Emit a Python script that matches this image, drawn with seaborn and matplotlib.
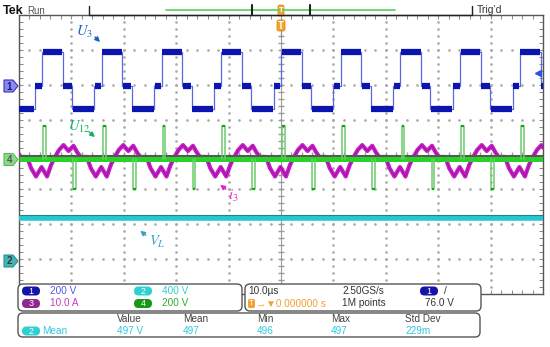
import numpy as np
import matplotlib
matplotlib.use("Agg")
import matplotlib.pyplot as plt
from matplotlib.patches import FancyBboxPatch, Polygon
import seaborn as sns

# ── scope settings (read from the readout) ───────────────────────────────────
CH1_V_DIV = 200.0
CH2_V_DIV = 400.0
CH3_A_DIV = 10.0
CH4_V_DIV = 200.0

# ground markers, divisions from screen centre
CH1_GND = 1.96
CH2_GND = -3.05
CH3_GND = -0.07
CH4_GND = -0.14

# ── U3 (ch1) ─────────────────────────────────────────────────────────────────
U3_EDGES = [-57.0, -45.6, -34.2, -22.8, -11.4, 0.0, 11.4, 22.8, 34.2, 45.6]   # µs
U3_PERIOD = 11.4
U3_STEP_T = [0.0, 3.93, 5.73, 9.98]       # µs after rising edge
U3_STEP_V = [195.0, 0.0, -129.0, 0.0]     # V

# ── U12 (ch4) ────────────────────────────────────────────────────────────────
U12_BASE_V = 0.0
U12_EDGE_V = 20.0
U12_POS_T = 0.2
U12_NEG_T = 5.93
U12_PULSE_W = 0.55
U12_POS_V = 192.0
U12_NEG_V = -169.0

# ── i3 (ch3), one period relative to U3 rising edge ─────────────────────────
I3_T = [-2.86, -2.10, -1.15, -0.10, 0.95, 1.72, 2.48, 3.24, 4.10, 5.06, 6.01, 6.68, 7.35]
I3_A = [0.0, -3.2, -5.6, -2.9, -5.6, -2.3, 0.0, 2.0, 3.4, 1.7, 3.2, 1.4, 0.0]

# ── VL (ch2) ─────────────────────────────────────────────────────────────────
VL_MEAN = 497.0

# readout texts
MEAS_HEAD = ["Value", "Mean", "Min", "Max", "Std Dev"]
MEAS_VALS = ["497 V", "497", "496", "497", "229m"]

sns.set_theme(style="white")
plt.rcParams["font.family"] = ["Liberation Sans", "DejaVu Sans"]
plt.rcParams["mathtext.fontset"] = "stix"

fig = plt.figure(figsize=(5.5, 3.47), dpi=100)
ax = fig.add_axes([19 / 550, 1 - 294 / 347, 524 / 550, 279 / 347])
ax.set_xlim(-50, 50)
ax.set_ylim(-4, 4)

# graticule
minor_x = np.arange(-50, 50.01, 2)
minor_y = np.arange(-4, 4.01, 0.2)
for xv in range(-40, 41, 10):
    if xv != 0:
        ax.plot(np.full_like(minor_y, xv), minor_y, ls="none", marker="s", ms=0.8,
                color="#a8a8a8", zorder=1)
for yv in range(-3, 4):
    if yv != 0:
        ax.plot(minor_x, np.full_like(minor_x, yv), ls="none", marker="s", ms=0.8,
                color="#a8a8a8", zorder=1)
ax.axvline(0, color="#9a9a9a", lw=0.8, zorder=1)
ax.axhline(0, color="#9a9a9a", lw=0.8, zorder=1)
ax.plot(np.zeros_like(minor_y), minor_y, ls="none", marker="_", ms=4, color="#9a9a9a", zorder=1)
ax.plot(minor_x, np.zeros_like(minor_x), ls="none", marker="|", ms=4, color="#9a9a9a", zorder=1)
ax.set_xticks(minor_x)
ax.set_yticks(minor_y)
ax.set_xticklabels([])
ax.set_yticklabels([])
ax.tick_params(direction="in", length=3, width=0.7, color="#888888",
               top=True, right=True, bottom=True, left=True)
for s in ax.spines.values():
    s.set_color("#555555")
    s.set_linewidth(1.0)

# ── VL trace ─────────────────────────────────────────────────────────────────
vl_y = CH2_GND + VL_MEAN / CH2_V_DIV
sns.lineplot(x=[-50, 50], y=[vl_y, vl_y], ax=ax, color="#22c8d2", lw=4.0, zorder=3)
sns.lineplot(x=[-50, 50], y=[vl_y + 0.07, vl_y + 0.07], ax=ax, color="#2a8088", lw=0.8, zorder=3)

# ── U3 trace ─────────────────────────────────────────────────────────────────
u3_t, u3_v = [], []
plateaus = []
for t0 in U3_EDGES:
    for i, dt in enumerate(U3_STEP_T):
        u3_t += [t0 + dt, t0 + dt]
        u3_v += [U3_STEP_V[i - 1], U3_STEP_V[i]]
        t_end = t0 + (U3_STEP_T[i + 1] if i + 1 < len(U3_STEP_T) else U3_PERIOD)
        plateaus.append((t0 + dt, t_end, U3_STEP_V[i]))
u3_t.append(U3_EDGES[-1] + U3_PERIOD)
u3_v.append(U3_STEP_V[-1])
u3_y = CH1_GND + np.array(u3_v) / CH1_V_DIV
sns.lineplot(x=u3_t, y=u3_y, ax=ax, sort=False, estimator=None, color="#5a68e6", lw=0.9, zorder=4)
for a, b, v in plateaus:
    ax.hlines(CH1_GND + v / CH1_V_DIV, a + 0.1, b - 0.1, color="#0c14b0", lw=4.5, zorder=4)

# ── i3 trace ─────────────────────────────────────────────────────────────────
i3_t, i3_a = [], []
for t0 in U3_EDGES:
    i3_t += [t0 + d for d in I3_T]
    i3_a += I3_A
i3_y = CH3_GND + np.array(i3_a) / CH3_A_DIV
sns.lineplot(x=i3_t, y=i3_y, ax=ax, sort=False, estimator=None, color="#c81ec8", lw=3.0, zorder=5)
sns.lineplot(x=i3_t, y=i3_y, ax=ax, sort=False, estimator=None, color="#7a1080", lw=0.6, alpha=0.7, zorder=5)

# ── U12 trace ────────────────────────────────────────────────────────────────
u12_base = CH4_GND + U12_BASE_V / CH4_V_DIV
ax.hlines(CH4_GND + U12_EDGE_V / CH4_V_DIV, -50, 50, color="#555555", lw=1.4, zorder=6)
ax.hlines(u12_base, -50, 50, color="#28d228", lw=3.6, zorder=6)
for t0 in U3_EDGES:
    for ts, pv in [(U12_POS_T, U12_POS_V), (U12_NEG_T, U12_NEG_V)]:
        a = t0 + ts
        b = a + U12_PULSE_W
        py = CH4_GND + pv / CH4_V_DIV
        sns.lineplot(x=[a, a, b, b], y=[u12_base, py, py, u12_base], ax=ax, sort=False,
                     estimator=None, color="#6ccc6c", lw=1.1, zorder=7)
        ax.hlines(py, a, b, color="#1e9e1e", lw=1.6, zorder=7)

# ── overlay in screen pixels ─────────────────────────────────────────────────
ov = fig.add_axes([0, 0, 1, 1])
ov.set_xlim(0, 550)
ov.set_ylim(347, 0)
ov.axis("off")

# annotations
ann = [
    (r"$U_3$", (84, 32), (93, 35), (102, 44), "#1a5cc8"),
    (r"$U_{12}$", (79, 127), (87, 130), (97, 139), "#12b060"),
    (r"$i_3$", (233, 196), (228, 191), (218, 183), "#e020d0"),
    (r"$V_L$", (157, 242), (148, 237), (138, 229), "#3aa0d0"),
]
for txt, pos, tail, tip, col in ann:
    ov.text(pos[0], pos[1], txt, color=col, fontsize=10.5, ha="center", va="center")
    ov.annotate("", xy=tip, xytext=tail,
                arrowprops=dict(arrowstyle="-|>", color=col, lw=1.0, mutation_scale=7))

# channel markers on the left
for c, label, fc, ec, tc in [(86, "1", "#8c8ce8", "#3434c4", "#1616a0"),
                             (159.5, "4", "#8ad88a", "#5ab85a", "#555555"),
                             (261, "2", "#44b4b4", "#2a9090", "#2c3c3c")]:
    ov.add_patch(Polygon([(4, c - 6), (13, c - 6), (18, c), (13, c + 6), (4, c + 6)],
                         closed=True, fc=fc, ec=ec, lw=0.8))
    ov.text(9.5, c + 0.5, label, color=tc, fontsize=7, fontweight="bold", ha="center", va="center")

# trigger level arrow on the right
ov.plot([538], [73], marker="<", ms=5, color="#3050e0", ls="none")

# top bar
ov.text(3, 11, "Tek", fontsize=9, fontweight="bold", color="#111111", va="center")
ov.text(27, 11, "Run", fontsize=7, color="#555555", va="center")
ov.plot([89, 89, 472, 472], [6, 15, 15, 6], color="#222222", lw=1.0)
ov.plot([166, 395], [10, 10], color="#58d058", lw=1.2)
ov.plot([252, 252], [5, 15], color="#222222", lw=1.5)
ov.plot([310, 310], [5, 15], color="#222222", lw=1.5)
ov.text(477, 10, "Trig\u2019d", fontsize=7.5, color="#333333", va="center")
ov.add_patch(FancyBboxPatch((278, 5), 6, 11, boxstyle="round,pad=0,rounding_size=2",
                            fc="#f3a234", ec="#e08a10", lw=0.6))
ov.text(281, 10.5, "T", fontsize=5.5, color="white", ha="center", va="center", fontweight="bold")
ov.add_patch(FancyBboxPatch((277, 20), 8, 11, boxstyle="round,pad=0,rounding_size=2",
                            fc="#f3a234", ec="#e08a10", lw=0.6))
ov.text(281, 25.5, "T", fontsize=7, color="white", ha="center", va="center", fontweight="bold")
ov.plot([281, 281], [31, 37], color="#888888", lw=0.8)

# readout boxes
for x0, y0, w, h in [(18, 284, 224, 27), (245, 284, 236, 27), (18, 313, 462, 24)]:
    ov.add_patch(FancyBboxPatch((x0, y0), w, h, boxstyle="round,pad=0,rounding_size=5",
                                fc="white", ec="#555555", lw=1.0, zorder=2))


def badge(cx, cy, label, col):
    ov.add_patch(FancyBboxPatch((cx - 9, cy - 4.5), 18, 9, boxstyle="round,pad=0,rounding_size=4.5",
                                fc=col, ec="none", zorder=3))
    ov.text(cx, cy + 0.3, label, color="white", fontsize=6.5, ha="center", va="center", zorder=4)


FS = 7.2
r1, r2 = 291, 303.5
badge(31, r1, "1", "#1414a8")
ov.text(50.5, r1, "200 V", color="#5555ee", fontsize=FS, va="center", zorder=4)
badge(143, r1, "2", "#2ed0d0")
ov.text(162.5, r1, "400 V", color="#33cccc", fontsize=FS, va="center", zorder=4)
badge(31, r2, "3", "#8c2890")
ov.text(50.5, r2, "10.0 A", color="#c040c0", fontsize=FS, va="center", zorder=4)
badge(143, r2, "4", "#169a16")
ov.text(162.5, r2, "200 V", color="#2eaa2e", fontsize=FS, va="center", zorder=4)

ov.text(248, r1, "10.0\u00b5s", color="#333333", fontsize=FS, va="center", zorder=4)
ov.add_patch(FancyBboxPatch((248, r2 - 4.5), 7, 9, boxstyle="round,pad=0,rounding_size=1.5",
                            fc="#f3a234", ec="none", zorder=3))
ov.text(251.5, r2 + 0.3, "T", color="white", fontsize=5.5, ha="center", va="center", zorder=4)
ov.text(256, r2, "\u2192\u25bc0.000000 s", color="#f0a030", fontsize=FS, va="center", zorder=4)
ov.text(342, r1, "2.50GS/s", color="#333333", fontsize=FS, va="center", zorder=4)
ov.text(342, r2, "1M points", color="#333333", fontsize=FS, va="center", zorder=4)
badge(429, r1, "1", "#1414a8")
ov.text(444, r1, "/", color="#333333", fontsize=FS, va="center", zorder=4)
ov.text(425, r2, "76.0 V", color="#333333", fontsize=FS, va="center", zorder=4)

h1, h2 = 319.5, 331
col_x = [117, 183, 257, 331, 405]
for x, hd, vv in zip(col_x, MEAS_HEAD, MEAS_VALS):
    ov.text(x, h1, hd, color="#404040", fontsize=FS, va="center", zorder=4)
    ov.text(x, h2, vv, color="#30c8e0", fontsize=FS, va="center", zorder=4)
badge(31, h2, "2", "#2ed0d0")
ov.text(42.5, h2, "Mean", color="#30c8e0", fontsize=FS, va="center", zorder=4)

fig.savefig("out.png", dpi=100)
